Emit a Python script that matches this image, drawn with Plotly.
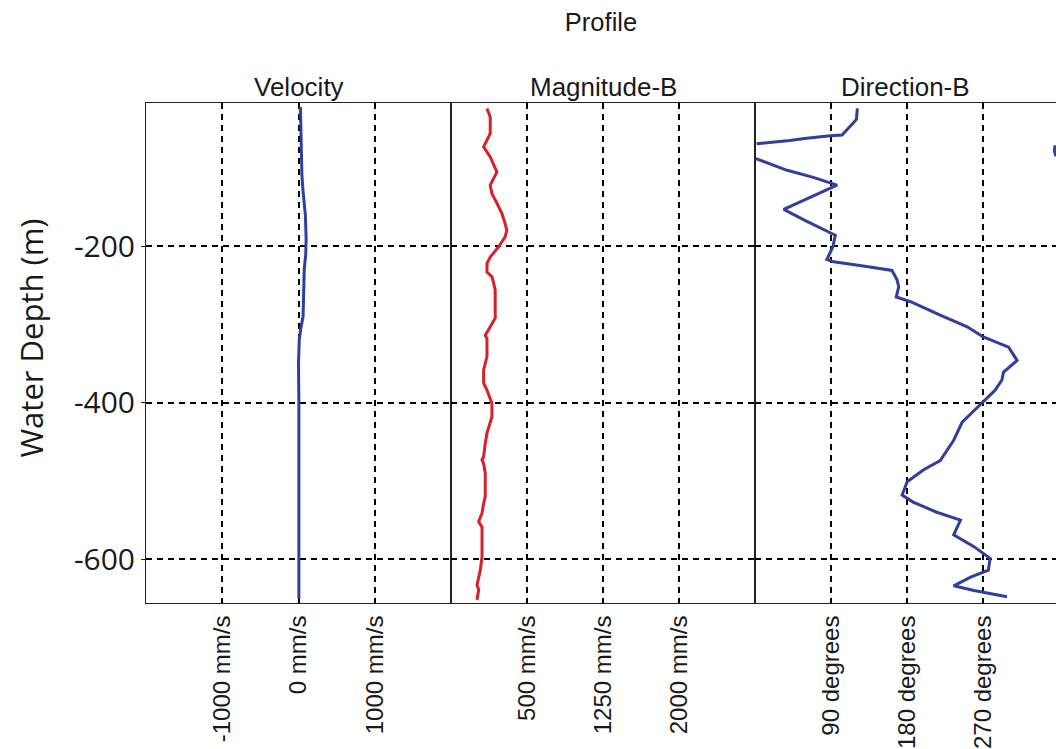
import plotly.graph_objects as go

# ---------------- data ----------------
depth_vel = [-22, -50, -80, -110, -130, -160, -190, -210, -230, -260, -290, -305,
             -320, -350, -380, -400, -450, -500, -550, -600, -650]
velocity = [25, 30, 35, 45, 60, 90, 100, 95, 75, 70, 60, 30,
            10, 0, 5, 5, 5, 5, 5, 5, 5]

depth_mag = [-24, -35, -56, -73, -86, -101, -105, -122, -133, -145, -158, -171,
             -180, -188, -201, -214, -222, -233, -239, -247, -256, -292, -299,
             -305, -314, -318, -341, -358, -375, -384, -394, -401, -418, -426,
             -439, -452, -469, -473, -478, -490, -520, -529, -541, -552, -559,
             -597, -614, -633, -639, -652]
magnitude = [105, 137, 137, 72, 137, 186, 203, 137, 154, 203, 252, 284,
             301, 284, 219, 137, 105, 105, 154, 170, 186, 186, 154,
             121, 88, 105, 105, 72, 72, 105, 137, 154, 154, 137,
             105, 88, 72, 56, 72, 88, 88, 72, 56, 23, 56,
             56, 39, 7, 23, 7]

depth_dir = [-24, -38, -58, -59, -62, -65, -69, -71, -78, -85, -88, -103, -112, -122,
             -153, -167, -186, -201, -217, -220, -226, -231, -243, -252, -265, -271,
             -288, -303, -316, -329, -346, -361, -371, -384, -403, -425, -448, -474,
             -486, -501, -518, -527, -540, -550, -569, -584, -599, -614, -623, -634,
             -640, -648]
direction = [121, 120, 103, 89, 61, 41, 2, 355, 354, 356, 1, 38, 69, 97,
             34, 59, 95, 92, 85, 93, 132, 162, 168, 170, 167, 184,
             219, 251, 270, 300, 310, 294, 292, 284, 266, 245, 235, 219,
             199, 180, 174, 187, 215, 243, 235, 259, 278, 276, 255, 235,
             259, 298]

vel_ticks = [-1000, 0, 1000]
vel_labels = ["-1000 mm/s", "0 mm/s", "1000 mm/s"]
mag_ticks = [500, 1250, 2000]
mag_labels = ["500 mm/s", "1250 mm/s", "2000 mm/s"]
dir_ticks = [90, 180, 270]
dir_labels = ["90 degrees", "180 degrees", "270 degrees"]
depth_ticks = [-200, -400, -600]
depth_labels = ["-200", "-400", "-600"]

panel_titles = ["Velocity", "Magnitude-B", "Direction-B"]

# break the direction line where it wraps around 0/360
dir_x, dir_y = [], []
for i, (v, d) in enumerate(zip(direction, depth_dir)):
    if i > 0 and abs(v - direction[i - 1]) > 180:
        dir_x.append(None)
        dir_y.append(None)
    dir_x.append(v)
    dir_y.append(d)

# ---------------- figure ----------------
BLUE = "#2f3f9e"
RED = "#d8202a"
TXT = "#1a1a1a"
SANS = "Liberation Sans, Arial, sans-serif"

fig = go.Figure()
fig.add_trace(go.Scatter(x=velocity, y=depth_vel, mode="lines",
                         line=dict(color=BLUE, width=3), xaxis="x", yaxis="y"))
fig.add_trace(go.Scatter(x=magnitude, y=depth_mag, mode="lines",
                         line=dict(color=RED, width=3), xaxis="x2", yaxis="y2"))
fig.add_trace(go.Scatter(x=dir_x, y=dir_y, mode="lines", connectgaps=False,
                         line=dict(color=BLUE, width=3), xaxis="x3", yaxis="y3"))

W_TOTAL = 910.0
d1 = [0, 305 / W_TOTAL]
d2 = [305 / W_TOTAL, 609 / W_TOTAL]
d3 = [609 / W_TOTAL, 1]

xcommon = dict(showline=True, mirror=True, linecolor="#222", linewidth=1,
               showgrid=True, gridcolor="black", gridwidth=1.6, griddash="6px,5px",
               zeroline=False, tickangle=-90, ticks="", automargin=False,
               tickfont=dict(family=SANS, size=24, color=TXT),
               ticklabelstandoff=2, fixedrange=True)
ycommon = dict(showline=True, mirror=True, linecolor="#222", linewidth=1,
               showgrid=True, gridcolor="black", gridwidth=1.6, griddash="6px,5px",
               zeroline=False, range=[-656, -17], tickvals=depth_ticks,
               ticktext=depth_labels, automargin=False)

fig.update_layout(
    width=1056, height=749,
    margin=dict(l=146, r=0, t=103, b=146),
    paper_bgcolor="white", plot_bgcolor="white",
    showlegend=False,
    title=dict(text="Profile", x=0.5, xref="paper", xanchor="center",
               y=1 - 22 / 749, yref="container", yanchor="middle",
               font=dict(family=SANS, size=25.5, color=TXT), automargin=False),
    xaxis=dict(domain=d1, range=[-2000, 2000], tickvals=vel_ticks,
               ticktext=vel_labels, anchor="y", **xcommon),
    xaxis2=dict(domain=d2, range=[-250, 2750], tickvals=mag_ticks,
                ticktext=mag_labels, anchor="y2", **xcommon),
    xaxis3=dict(domain=d3, range=[0, 356], tickvals=dir_ticks,
                ticktext=dir_labels, anchor="y3", **xcommon),
    yaxis=dict(anchor="x", ticks="outside", ticklen=4, tickcolor="#222",
               tickfont=dict(family="Open Sans, sans-serif", size=30, color=TXT),
               **ycommon),
    yaxis2=dict(anchor="x2", matches="y", showticklabels=False, **ycommon),
    yaxis3=dict(anchor="x3", matches="y", showticklabels=False, **ycommon),
)

annotations = []
for title, dom in zip(panel_titles, [d1, d2, d3]):
    annotations.append(dict(text=title, x=(dom[0] + dom[1]) / 2, y=1,
                            xref="paper", yref="paper", xanchor="center",
                            yanchor="bottom", yshift=-1, showarrow=False,
                            font=dict(family=SANS, size=26, color=TXT)))
annotations.append(dict(text="Water Depth (m)", x=(30 - 146) / W_TOTAL,
                        y=(603 - 338.5) / 500, xref="paper", yref="paper",
                        xanchor="center", yanchor="middle", textangle=-90,
                        showarrow=False,
                        font=dict(family="Open Sans, sans-serif", size=31, color=TXT)))
fig.update_layout(annotations=annotations)

fig.write_html("out.html")
